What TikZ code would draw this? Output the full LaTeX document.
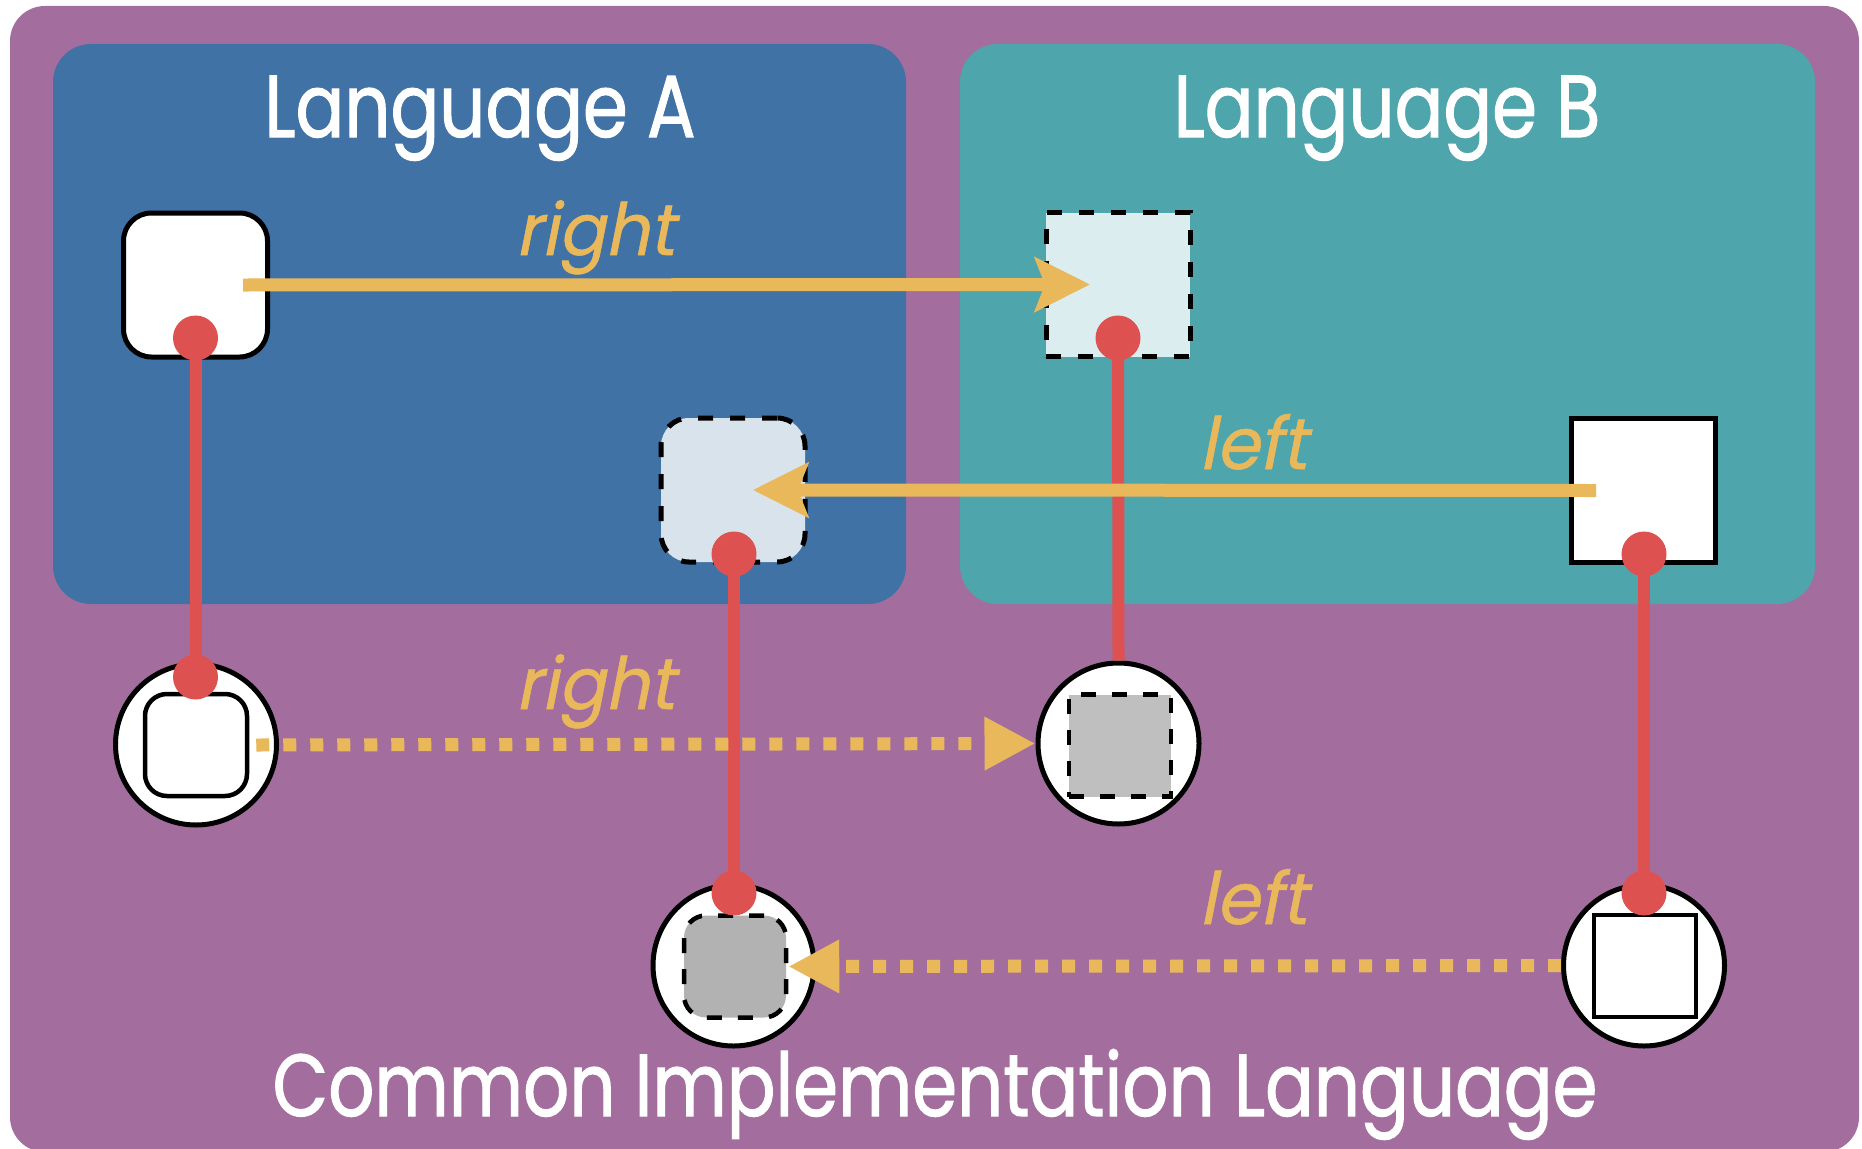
\documentclass[tikz,border=0pt]{standalone}
\usepackage{fontspec}
\setmainfont{Poppins}[FakeStretch=0.82, FakeBold=1.2]
\newfontfamily\slantfont{Poppins}[FakeSlant=0.2, FakeStretch=0.96, FakeBold=0.8]
\usetikzlibrary{arrows.meta}

\definecolor{purp}{HTML}{A36E9E}
\definecolor{blueA}{HTML}{4072A6}
\definecolor{tealB}{HTML}{4FA5AC}
\definecolor{yel}{HTML}{E9B85A}
\definecolor{redc}{HTML}{DD5250}
\definecolor{paleA}{HTML}{D9E3EC}
\definecolor{paleB}{HTML}{DCEDEF}
\definecolor{greyA}{HTML}{BFBFBF}
\definecolor{greyB}{HTML}{B2B2B2}

\pgfdeclarelayer{panel}
\pgfdeclarelayer{wire}
\pgfdeclarelayer{over}
\pgfsetlayers{panel,main,wire,over}

\begin{document}
\begin{tikzpicture}[x=1pt,y=-1pt,
  box/.style={draw=black, line width=5pt, minimum size=144pt, inner sep=0pt, fill=white},
  dashbox/.style={box, dash pattern=on 15pt off 17pt},
  ring/.style={circle, draw=black, line width=5pt, fill=white, minimum size=161pt, inner sep=0pt},
  inbox/.style={draw=black, line width=4.5pt, minimum size=102pt, inner sep=0pt, fill=white},
  indash/.style={inbox, dash pattern=on 15pt off 16pt},
  pin/.style={circle, fill=redc, minimum size=45pt, inner sep=0pt},
  wire/.style={draw=redc, line width=12pt},
  flow/.style={draw=yel, line width=13pt, -{Stealth[length=55pt,width=54pt,inset=10pt]}},
  dotflow/.style={draw=yel, line width=13pt, dash pattern=on 13pt off 14pt, -{Triangle[length=51pt,width=50pt]}},
  title/.style={text=white, inner sep=0pt, font=\fontsize{88}{88}\selectfont},
  lbl/.style={text=yel, inner sep=0pt, font=\slantfont\fontsize{72}{72}\selectfont}
]
\useasboundingbox (0,0) rectangle (1862,1148);

% background panels
\begin{pgfonlayer}{panel}
  \fill[purp, rounded corners=35pt] (10,6) rectangle (1859,1152);
  \fill[blueA, rounded corners=38pt] (53,44) rectangle (906,604);
  \fill[tealB, rounded corners=38pt] (960,44) rectangle (1815,604);
\end{pgfonlayer}

% titles
\node[title, anchor=base] (tA) at (480,137) {Language A};
\node[title, anchor=base] (tB) at (1387,137) {Language B};
\node[title, anchor=base] (tC) at (935,1116) {Common Implementation Language};

% language-level values
\node[box, rounded corners=28pt] (A1) at (195.5,285) {};
\node[dashbox, rounded corners=28pt, fill=paleA] (A2) at (733,490) {};
\node[dashbox, fill=paleB] (B1) at (1118,284.5) {};
\node[box] (B2) at (1643.5,490.5) {};

% implementation-level values
\node[ring] (C1) at (196,744.5) {};
\node[inbox, rounded corners=22pt] (C1in) at (196,745) {};
\node[ring] (C2) at (1118.5,743.5) {};
\node[indash, fill=greyA] (C2in) at (1120,745.5) {};
\node[ring] (C3) at (733.5,965.5) {};
\node[indash, rounded corners=22pt, fill=greyB] (C3in) at (735,966.5) {};
\node[ring] (C4) at (1644,965.5) {};
\node[inbox] (C4in) at (1645,966) {};

% links between levels
\begin{pgfonlayer}{over}
  \node[pin] (A1p) at (195.5,338) {};
  \node[pin] (C1p) at (195.5,677) {};
  \node[pin] (A2p) at (734,554) {};
  \node[pin] (C3p) at (734,893) {};
  \node[pin] (B1p) at (1118,338) {};
  \node[pin] (B2p) at (1644,554) {};
  \node[pin] (C4p) at (1644,893) {};
\end{pgfonlayer}
\begin{pgfonlayer}{wire}
  \draw[wire] (A1p.center) -- (C1p.center);
  \draw[wire] (A2p.center) -- (C3p.center);
  \draw[wire] (B1p.center) -- (C2.north);
  \draw[wire] (B2p.center) -- (C4p.center);
\end{pgfonlayer}

% conversions
\begin{pgfonlayer}{over}
  \draw[flow] ([xshift=47.5pt]A1.center) -- ([xshift=-28pt]B1.center);
  \draw[flow] ([xshift=-47.5pt]B2.center) -- ([xshift=20pt]A2.center);
  \draw[dotflow] ([xshift=7pt]C1in.east) -- (C2.west);
  \draw[dotflow] (C4.west) -- (C3in.east);
\end{pgfonlayer}

\node[lbl, anchor=base] (r1) at (595,255) {right};
\node[lbl, anchor=base] (l1) at (1253,469) {left};
\node[lbl, anchor=base] (r2) at (595,709) {right};
\node[lbl, anchor=base] (l2) at (1253,924) {left};
\end{tikzpicture}
\end{document}
